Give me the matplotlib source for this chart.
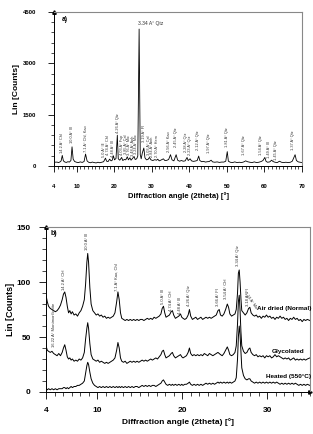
import matplotlib
matplotlib.use('Agg')
import matplotlib.pyplot as plt
from matplotlib.ticker import FixedLocator, MultipleLocator

plt.rcParams['font.family'] = ['Liberation Sans', 'DejaVu Sans']

# ---- panel a) bulk sample, 2theta 4-70 ----
two_theta_a = [4.0, 4.4, 4.8, 5.2, 5.6, 5.9, 6.2, 6.5, 6.9, 7.3, 7.7, 8.1, 8.5, 8.8, 9.1, 9.5,
               10.0, 10.5, 11.0, 11.5, 12.0, 12.4, 12.8, 13.2, 13.7, 14.2, 14.7, 15.2, 15.7, 16.2,
               16.7, 17.2, 17.7, 18.0, 18.4, 18.8, 19.2, 19.5, 19.8, 20.1, 20.5, 20.85, 21.1, 21.5,
               22.0, 22.3, 22.7, 23.1, 23.5, 23.8, 24.2, 24.5, 24.9, 25.3, 25.6, 26.0, 26.3, 26.65,
               26.95, 27.2, 27.5, 27.9, 28.2, 28.6, 29.0, 29.4, 29.8, 30.3, 30.8, 31.3, 31.6, 32.0,
               32.5, 33.1, 33.5, 34.0, 34.5, 35.0, 35.4, 35.9, 36.5, 36.9, 37.4, 37.9, 38.4, 38.9,
               39.4, 39.7, 40.2, 40.6, 41.1, 41.6, 42.1, 42.5, 42.8, 43.3, 43.8, 44.3, 44.8, 45.3,
               45.8, 46.2, 46.8, 47.4, 48.0, 48.6, 49.2, 49.7, 50.1, 50.4, 50.9, 51.5, 52.1, 52.7,
               53.3, 53.9, 54.5, 55.0, 55.5, 56.1, 56.7, 57.3, 57.9, 58.5, 59.1, 59.6, 60.1, 60.4,
               60.8, 61.4, 61.9, 62.3, 62.8, 63.4, 64.0, 64.5, 65.1, 65.7, 66.3, 66.9, 67.4, 67.8,
               68.15, 68.5, 69.0, 69.5, 70.0]
counts_a = [130, 110, 115, 100, 120, 150, 310, 150, 115, 105, 125, 115, 160, 560, 200, 130,
            110, 100, 120, 105, 130, 350, 150, 110, 95, 115, 100, 90, 110, 95,
            110, 125, 230, 140, 130, 200, 150, 170, 300, 180, 220, 900, 210, 170,
            250, 160, 190, 180, 270, 180, 240, 170, 220, 280, 190, 210, 290, 4000,
            330, 210, 380, 525, 240, 180, 190, 250, 180, 160, 185, 170, 200, 150,
            175, 210, 160, 165, 190, 330, 180, 150, 330, 170, 140, 160, 140, 150,
            250, 160, 210, 150, 135, 145, 160, 290, 160, 125, 135, 115, 125, 130,
            170, 120, 110, 120, 105, 115, 115, 140, 420, 140, 110, 100, 120, 100,
            110, 100, 120, 150, 125, 110, 100, 120, 100, 110, 130, 160, 250, 140,
            110, 120, 170, 130, 110, 100, 140, 110, 100, 110, 100, 110, 140, 240,
            330, 160, 120, 110, 100]

labels_a = ['14.2 A° Chl', '10.0 A° Ill', '7.1 A° Chl, Kao', '5.0 A° Ill', '4.74 A° Chl',
            '4.48 A° Ill', '4.26 A° Qtz', '4.03 A° Fsp', '3.85 A° Cal', '3.76 A° Mic',
            '3.48 A° Anh', '3.24 A° Mic', '3.19 A° Fl', '3.03 A° Cal', '2.84 A° Anh',
            '2.70 A° Hem', '2.56 A° Kao', '2.45 A° Qtz', '2.28 A° Qtz', '2.23 A° Qtz',
            '2.12 A° Qtz', '1.97 A° Qtz', '1.81 A° Qtz', '1.67 A° Qtz', '1.54 A° Qtz',
            '1.49 A° Ill', '1.45 A° Qtz', '1.37 A° Qtz']
label_x_a = [6.1, 8.7, 12.3, 17.3, 18.5, 19.7, 20.9, 22.1, 23.1, 23.9, 24.9, 25.9, 27.9, 29.2,
             30.1, 31.4, 34.7, 36.4, 39.1, 40.2, 42.3, 45.3, 50.0, 54.6, 59.2, 61.3, 63.1, 67.7]
label_y_a = [380, 670, 410, 260, 320, 260, 960, 330, 350, 310, 290, 360, 700, 330, 270,
             250, 420, 560, 420, 330, 470, 380, 560, 320, 320, 240, 175, 470]

# ---- panel b) clay fraction, three treatments ----
two_theta_b = [4.0, 4.15, 4.3, 4.5, 4.7, 4.9, 5.1, 5.3, 5.5, 5.7, 5.9, 6.05, 6.2, 6.35, 6.5, 6.65,
               6.8, 6.95, 7.1, 7.3, 7.5, 7.7, 7.9, 8.1, 8.3, 8.5, 8.65, 8.8, 8.9, 9.0, 9.15, 9.3,
               9.5, 9.7, 9.9, 10.1, 10.3, 10.5, 10.7, 10.9, 11.1, 11.3, 11.5, 11.7, 11.9, 12.1,
               12.3, 12.45, 12.6, 12.75, 12.9, 13.1, 13.3, 13.5, 13.7, 13.9, 14.1, 14.3, 14.5,
               14.7, 14.9, 15.1, 15.3, 15.5, 15.7, 15.9, 16.1, 16.3, 16.5, 16.7, 16.9, 17.1,
               17.3, 17.5, 17.65, 17.8, 17.95, 18.1, 18.3, 18.5, 18.7, 18.85, 19.0, 19.2, 19.4,
               19.6, 19.8, 19.95, 20.1, 20.3, 20.5, 20.7, 20.85, 21.0, 21.2, 21.4, 21.6, 21.8,
               22.0, 22.2, 22.4, 22.6, 22.8, 23.0, 23.2, 23.4, 23.6, 23.8, 24.0, 24.2, 24.35,
               24.5, 24.7, 24.9, 25.1, 25.3, 25.45, 25.6, 25.8, 26.0, 26.2, 26.35, 26.5, 26.6,
               26.7, 26.8, 26.9, 27.0, 27.2, 27.4, 27.6, 27.8, 27.95, 28.1, 28.3, 28.5, 28.7,
               28.9, 29.1, 29.3, 29.5, 29.7, 29.9, 30.1, 30.3, 30.5, 30.7, 30.9, 31.1, 31.3,
               31.5, 31.7, 31.9, 32.1, 32.3, 32.5, 32.7, 32.9, 33.1, 33.3, 33.5, 33.7, 33.9,
               34.1, 34.3, 34.5, 34.7, 35.0]
air_dried = [88, 82, 78, 76, 75, 74, 73, 74, 76, 79, 84, 89, 91, 86, 78, 72,
             74, 71, 73, 70, 71, 69, 72, 74, 78, 84, 98, 118, 126, 118, 95, 80,
             74, 72, 70, 71, 69, 70, 68, 69, 67, 68, 67, 68, 69, 72,
             82, 91, 84, 72, 67, 66, 65, 66, 65, 66, 65, 66, 65,
             66, 65, 66, 66, 65, 66, 67, 66, 67, 66, 68, 67, 68,
             69, 71, 76, 78, 72, 68, 69, 70, 73, 74, 70, 67, 68,
             69, 71, 68, 67, 66, 67, 70, 75, 69, 66, 67, 68, 66,
             67, 68, 66, 67, 68, 67, 68, 67, 68, 69, 70, 74, 75,
             70, 69, 71, 75, 80, 77, 71, 69, 70, 71, 75, 90, 108,
             111, 100, 85, 74, 72, 70, 72, 76, 77, 72, 70, 69, 70,
             68, 69, 67, 69, 68, 70, 68, 69, 67, 68, 66, 68, 67,
             69, 67, 68, 66, 67, 65, 67, 66, 68, 66, 67, 65, 66,
             64, 66, 65, 66, 65]
glycolated = [42, 38, 37, 36, 37, 35, 34, 33, 35, 33, 36, 40, 43, 38, 32, 30,
              31, 29, 30, 28, 29, 28, 30, 29, 31, 36, 48, 58, 63, 58, 44, 34,
              30, 29, 28, 29, 27, 28, 27, 26, 27, 26, 27, 28, 29, 31,
              38, 45, 40, 31, 28, 27, 28, 26, 27, 28, 27, 28, 27,
              28, 27, 28, 29, 28, 29, 28, 29, 30, 29, 30, 31, 30,
              32, 34, 37, 38, 34, 31, 32, 33, 35, 36, 33, 31, 32,
              33, 34, 32, 31, 32, 33, 36, 40, 35, 33, 34, 33, 34,
              33, 34, 33, 35, 34, 33, 35, 34, 33, 34, 35, 36, 35,
              34, 33, 35, 38, 41, 38, 34, 33, 34, 36, 42, 62, 82,
              88, 74, 55, 42, 37, 35, 36, 39, 40, 36, 34, 33, 34,
              32, 33, 32, 33, 31, 33, 32, 33, 31, 32, 34, 32, 33,
              32, 31, 30, 31, 30, 31, 29, 30, 31, 29, 30, 29, 30,
              29, 30, 29, 30, 31]
heated = [3, 2, 3, 2, 3, 2, 3, 2, 3, 3, 3, 4, 4, 3, 4, 3,
          4, 5, 4, 5, 5, 6, 6, 7, 8, 10, 17, 24, 27, 25, 18, 12,
          8, 6, 5, 4, 5, 4, 5, 4, 5, 4, 5, 4, 5, 4,
          5, 4, 5, 4, 5, 4, 5, 4, 5, 4, 5, 4, 5,
          5, 4, 5, 6, 5, 6, 5, 6, 5, 6, 6, 5, 6,
          7, 8, 10, 11, 9, 7, 6, 7, 6, 7, 6, 7, 6,
          7, 6, 7, 6, 7, 7, 8, 9, 7, 6, 7, 6, 7,
          6, 7, 6, 7, 8, 7, 8, 7, 8, 7, 8, 9, 8,
          9, 8, 9, 8, 9, 8, 9, 8, 9, 10, 13, 30, 50,
          60, 52, 36, 22, 15, 12, 11, 12, 12, 10, 9, 8, 9,
          8, 9, 8, 9, 8, 9, 8, 9, 8, 9, 8, 9, 8,
          7, 8, 7, 8, 7, 8, 7, 8, 7, 8, 7, 6, 7,
          6, 7, 6, 7, 6]

labels_b = ['14.2 A° Chl', '10.0 A° Ill', '7.1 A° Kao, Chl', '5.0 A° Ill', '4.74 A° Chl',
            '4.48 A° Ill', '4.26 A° Qtz', '3.66 A° Fl', '3.54 A° Chl', '3.34 A° Qtz',
            '3.18 A° Fl', '16.22 A° Montmorillonite']
label_x_b = [6.1, 8.8, 12.3, 17.7, 18.7, 19.8, 20.8, 24.2, 25.2, 26.5, 27.7, 4.9]
label_y_b = [93, 129, 92, 80, 74, 71, 78, 78, 85, 115, 78, 41]
treatments = ['Air dried (Normal)', 'Glycolated', 'Heated (550°C)']
treat_x = [35.2, 34.3, 35.2]
treat_y = [76, 37, 14]

fig = plt.figure(figsize=(3.13, 4.34), dpi=100)

# top graph
ax1 = fig.add_axes([0.1725, 0.6175, 0.7925, 0.355])
ax1.plot(two_theta_a, counts_a, color='black', lw=0.6)
ax1.set_xlim(4, 70)
ax1.set_ylim(0, 4500)
ax1.xaxis.set_major_locator(FixedLocator([4, 10, 20, 30, 40, 50, 60, 70]))
ax1.xaxis.set_minor_locator(MultipleLocator(1))
ax1.yaxis.set_major_locator(FixedLocator([0, 1500, 3000, 4500]))
ax1.yaxis.set_minor_locator(MultipleLocator(300))
ax1.tick_params(which='major', direction='out', length=4, width=0.6, labelsize=4.3, pad=9)
ax1.tick_params(which='minor', direction='out', length=2.2, width=0.5)
for lab in ax1.get_xticklabels() + ax1.get_yticklabels():
    lab.set_fontweight('bold')
ax1.set_xlabel('Diffraction angle (2theta) [°]', fontsize=5.5, fontweight='bold', labelpad=2)
ax1.set_ylabel('Lin [Counts]', fontsize=6, fontweight='bold', labelpad=2)
for i in range(len(labels_a)):
    ax1.text(label_x_a[i], label_y_a[i], labels_a[i], rotation=90, fontsize=2.8,
             ha='center', va='bottom', color='#333333')
ax1.text(26.4, 4150, '3.34 A° Qtz', fontsize=3.6, ha='left', va='center', color='#333333')
ax1.text(6.0, 4280, 'a)', fontsize=4.8, fontweight='bold', va='center')

# bottom graph
ax2 = fig.add_axes([0.147, 0.0968, 0.843, 0.380])
ax2.plot(two_theta_b, air_dried, color='black', lw=0.7)
ax2.plot(two_theta_b, glycolated, color='black', lw=0.7)
ax2.plot(two_theta_b, heated, color='black', lw=0.7)
ax2.set_xlim(4, 35)
ax2.set_ylim(0, 150)
ax2.xaxis.set_major_locator(FixedLocator([4, 10, 20, 30]))
ax2.xaxis.set_minor_locator(MultipleLocator(1))
ax2.yaxis.set_major_locator(MultipleLocator(50))
ax2.yaxis.set_minor_locator(MultipleLocator(10))
ax2.tick_params(which='major', direction='out', length=5, width=0.6, labelsize=6, pad=6)
ax2.tick_params(which='minor', direction='out', length=3, width=0.5)
for lab in ax2.get_xticklabels() + ax2.get_yticklabels():
    lab.set_fontweight('bold')
ax2.set_xlabel('Diffraction angle (2theta) [°]', fontsize=6, fontweight='bold', labelpad=3)
ax2.set_ylabel('Lin [Counts]', fontsize=6.5, fontweight='bold', labelpad=1)
for i in range(len(labels_b)):
    ax2.text(label_x_b[i], label_y_b[i], labels_b[i], rotation=90, fontsize=3,
             ha='center', va='bottom', color='#333333')
ax2.text(27.2, 92, '3.24 A° Mic', rotation=-55, fontsize=2.8, ha='left', va='top', color='#333333')
for i in range(len(treatments)):
    ax2.text(treat_x[i], treat_y[i], treatments[i], fontsize=4.6, fontweight='bold',
             ha='right', va='center', clip_on=False)
ax2.text(4.5, 144, 'b)', fontsize=5, fontweight='bold', va='center')

# frame: gray top/right, little arrow heads on the axes
for ax in [ax1, ax2]:
    ax.spines['top'].set_color('#888888')
    ax.spines['right'].set_color('#888888')
    ax.spines['left'].set_linewidth(0.7)
    ax.spines['bottom'].set_linewidth(0.7)
ax1.plot([4], [4500], marker='^', ms=2.5, color='black', clip_on=False)
ax2.plot([4], [150], marker='^', ms=2.5, color='black', clip_on=False)
ax2.plot([35], [0], marker='>', ms=2.5, color='black', clip_on=False)

fig.savefig('out.png', dpi=100)
